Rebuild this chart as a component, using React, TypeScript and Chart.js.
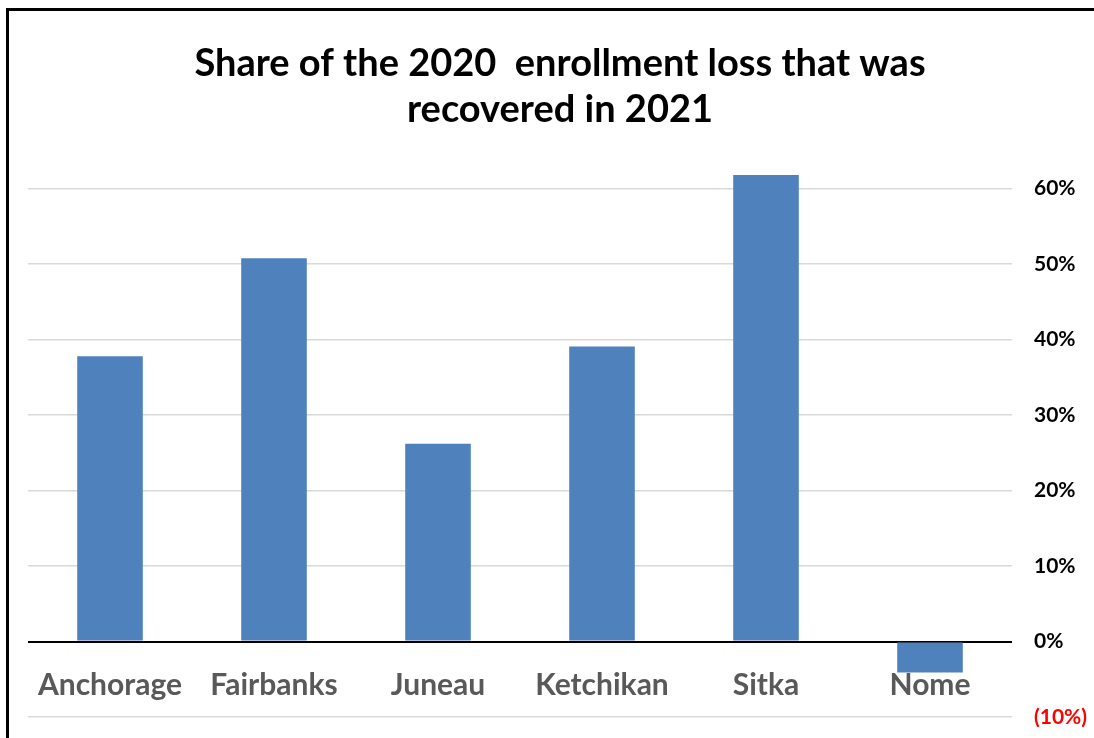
import React, { useEffect, useRef } from "react";
import { Chart, registerables } from "chart.js";

Chart.register(...registerables);

const categories = ["Anchorage", "Fairbanks", "Juneau", "Ketchikan", "Sitka", "Nome"];
const recoveredShare = [0.378, 0.508, 0.262, 0.391, 0.618, -0.041];
const tickValues = [-0.1, 0, 0.1, 0.2, 0.3, 0.4, 0.5, 0.6];
const titleLines = ["Share of the 2020  enrollment loss that was", "recovered in 2021"];

const FONT = "Lato, 'Open Sans', 'Liberation Sans', sans-serif";

function fmt(v: number): string {
  const p = Math.round(v * 100);
  return p < 0 ? `(${Math.abs(p)}%)` : `${p}%`;
}

export default function App() {
  const canvasRef = useRef<HTMLCanvasElement | null>(null);

  useEffect(() => {
    let chart: Chart | null = null;
    let cancelled = false;
    const make = () => {
      if (cancelled || !canvasRef.current) return;
      chart = new Chart(canvasRef.current, {
        type: "bar",
        data: {
          labels: categories,
          datasets: [
            {
              data: recoveredShare,
              backgroundColor: "#4F81BD",
              borderWidth: 0,
              barPercentage: 0.4,
              categoryPercentage: 1,
            },
          ],
        },
        options: {
          animation: false,
          responsive: false,
          maintainAspectRatio: false,
          layout: { padding: { left: 19, right: 0, top: 0, bottom: 54 } },
          plugins: {
            legend: { display: false },
            tooltip: { enabled: false },
            title: {
              display: true,
              text: titleLines,
              color: "#000000",
              font: { family: FONT, size: 38, weight: "bold", lineHeight: 1.21 },
              padding: { top: 30, bottom: 18 },
            },
          },
          scales: {
            x: {
              position: { y: 0 } as any,
              grid: { display: false, drawTicks: false },
              border: { display: false },
              ticks: {
                color: "#595959",
                font: { family: FONT, size: 30, weight: "bold" },
                padding: 26,
                maxRotation: 0,
                autoSkip: false,
              },
            },
            y: {
              position: "right",
              min: -0.1,
              max: 0.65,
              afterBuildTicks: (scale: any) => {
                scale.ticks = tickValues.map((v) => ({ value: v }));
              },
              afterFit: (scale: any) => {
                scale.width = 80;
              },
              ticks: {
                stepSize: 0.1,
                includeBounds: false,
                padding: 22,
                callback: (v: any) => fmt(Number(v)),
                color: (ctx: any) => (ctx.tick && ctx.tick.value < 0 ? "#FF0000" : "#000000"),
                font: { family: FONT, size: 21, weight: "bold" },
              },
              grid: {
                drawTicks: false,
                color: (ctx: any) => (ctx.tick && Math.abs(ctx.tick.value) < 1e-9 ? "#000000" : "#D9D9D9"),
                lineWidth: (ctx: any) => (ctx.tick && Math.abs(ctx.tick.value) < 1e-9 ? 2 : 1.5),
              },
              border: { display: false },
            },
          },
        },
      });
    };
    const fonts: any = (document as any).fonts;
    if (fonts && fonts.load) {
      Promise.all([
        fonts.load(`bold 38px Lato`),
        fonts.load(`bold 21px Lato`),
      ]).then(make, make);
    } else {
      make();
    }
    return () => {
      cancelled = true;
      if (chart) chart.destroy();
    };
  }, []);

  return (
    <div
      style={{
        position: "fixed",
        left: 6,
        top: 8,
        width: 1120,
        height: 760,
        border: "3px solid #000",
        background: "#fff",
      }}
    >
      <canvas ref={canvasRef} width={1083} height={760} style={{ display: "block", width: 1083, height: 760 }} />
    </div>
  );
}
